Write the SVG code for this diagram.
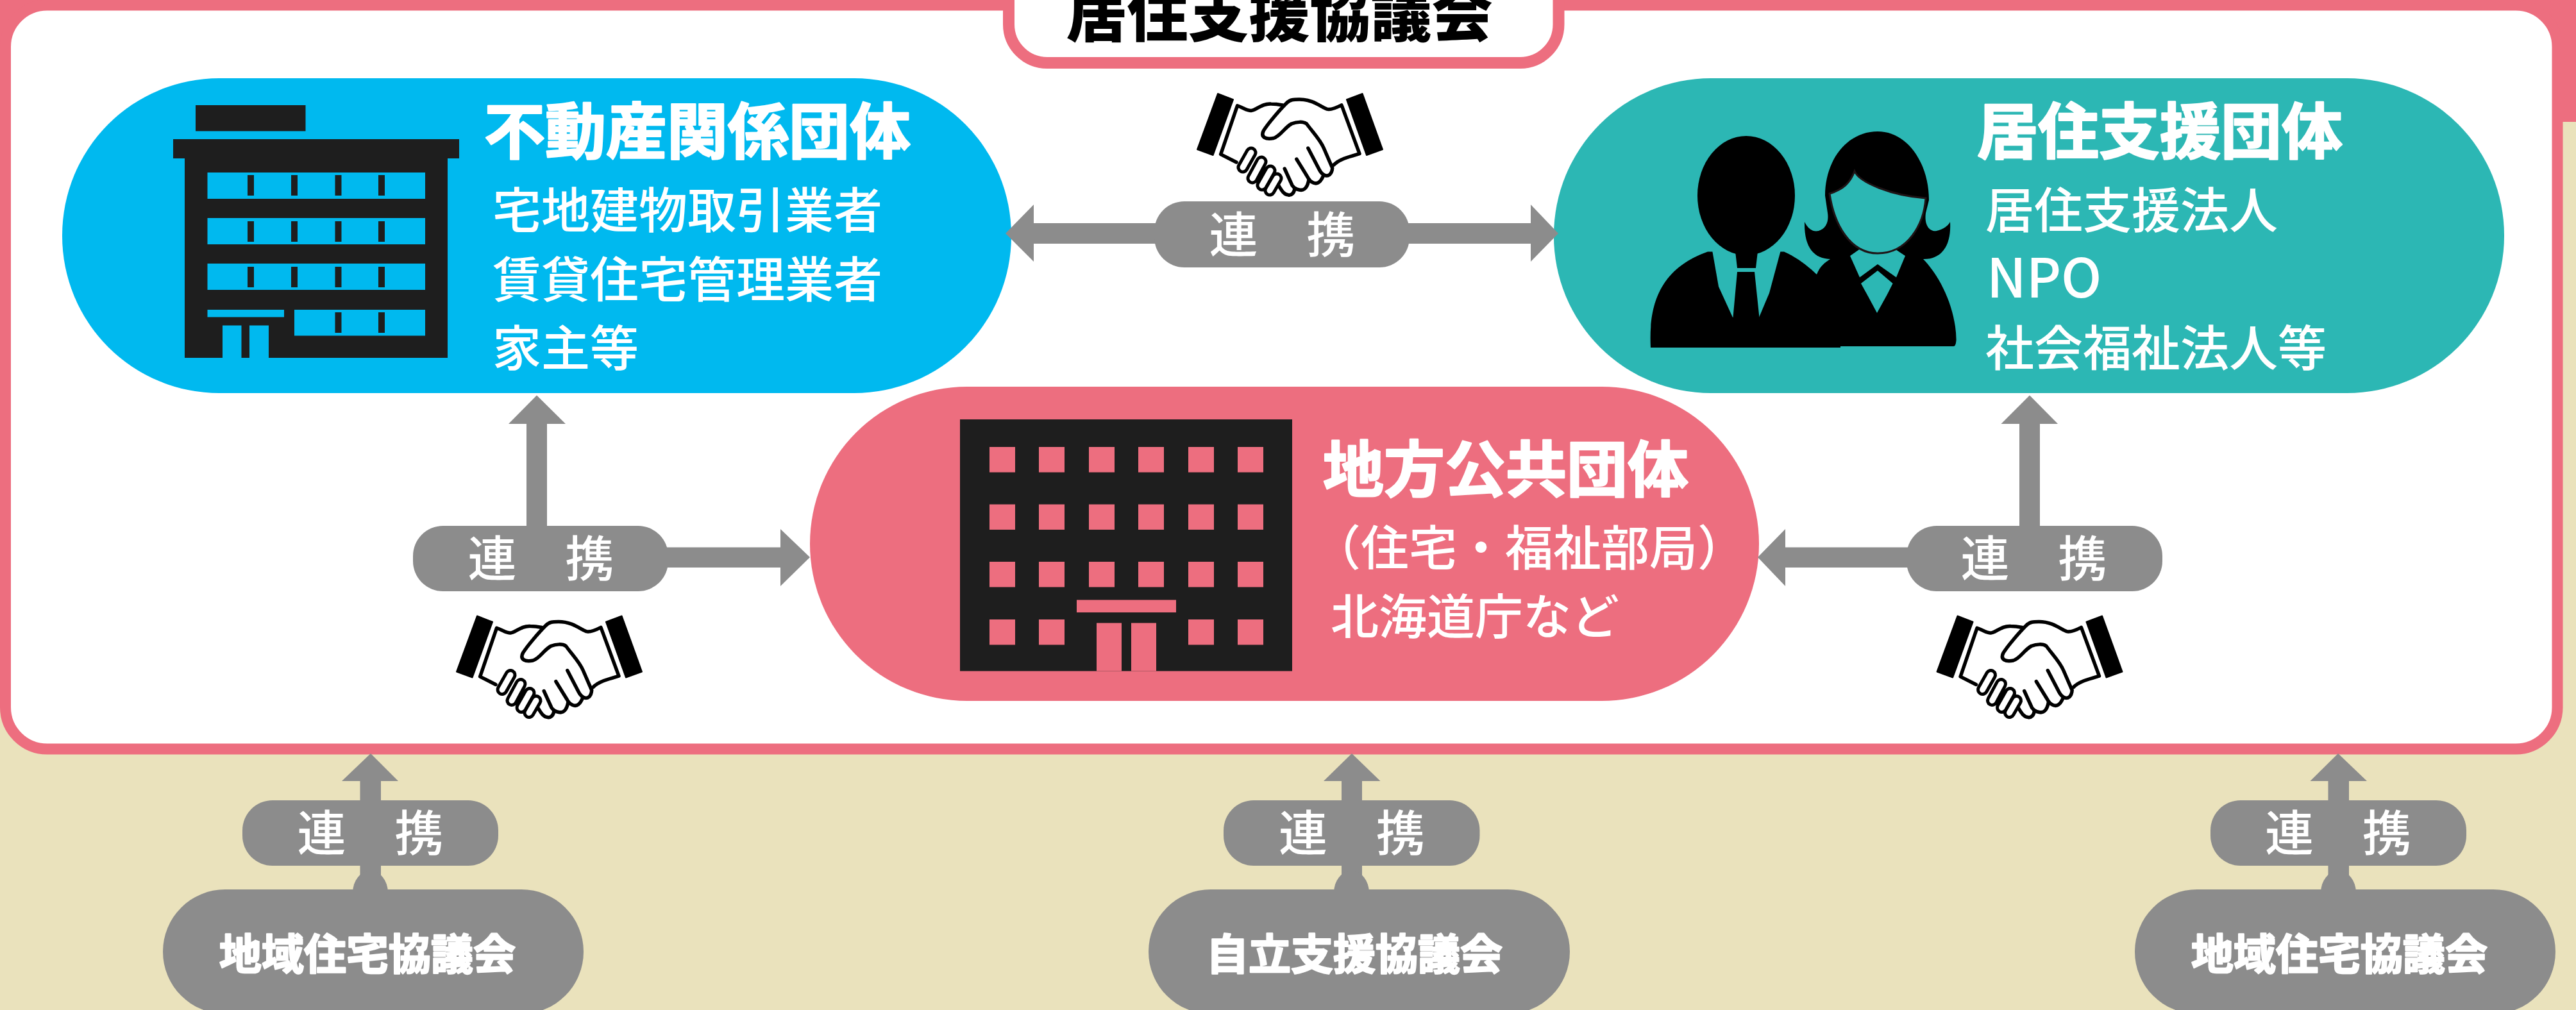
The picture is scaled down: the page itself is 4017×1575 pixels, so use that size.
<svg xmlns="http://www.w3.org/2000/svg" xmlns:xlink="http://www.w3.org/1999/xlink" width="4017" height="1575" viewBox="0 0 4017 1575">
<style>
text{font-family:"Noto Sans CJK JP","Noto Sans",sans-serif;fill:#fff}
.h{font-size:95px;font-weight:700;stroke:#fff;stroke-width:2.5px;stroke-linejoin:round}
.b{font-size:76px;font-weight:500}
.l{font-size:76px;font-weight:500;text-anchor:middle}
.s{font-size:66px;font-weight:700;text-anchor:middle;stroke:#fff;stroke-width:2.5px;stroke-linejoin:round}
.t{font-size:95px;font-weight:900;text-anchor:middle;fill:#000}
.g{fill:#8C8C8C}
.k{fill:#1E1E1E}
.hs{fill:none;stroke:#000;stroke-width:5.5;stroke-linecap:round;stroke-linejoin:round}
.blue{fill:#00B9EF}.pink{fill:#ED6E7F}.teal{fill:#2CB7B4}
</style>
<defs>
<g id="shake">
<path d="M32,0L56,9.3L24.6,96L0,87ZM233,9.3L257.6,0L289,87L264,96Z" fill="#000" stroke="#000" stroke-width="2" stroke-linejoin="round"/>
<path class="hs" d="M61,107L36.6,94.6L62.5,18.9C72,22 78,27 84,26.5C92,26 100,15 115,16C122,16 128,17 133,18"/>
<path class="hs" d="M213,111C222,102 238,98 253,93.6L225,17.9C217,22 208,26 202,24C194,22 182,9 159,9C150,9 145,9 139,15C128,26 110,47 103.6,57.4C98,68 107,72 119,69.5C130,66 135,54 147,47C155,44 165,43 170.5,47C180,60 192,72 197.3,85L210.7,115.9C210,126 204,130 198,127C194,125 192,122 190,118L172.8,85"/>
<path class="hs" d="M197,127C193,137 188,142 181,139C176,137 174,134 172,130L154.9,102.2"/>
<path class="hs" d="M174,134C172,146 167,152 159,150C153,149 150,146 148,143L136.2,117"/>
<path class="hs" d="M152,148C151,155 147,159 142,158C135,158 131,150 126,142"/>
<g stroke-linecap="round" fill="none">
<path d="M71,115L84,92M86,132L100,106M101,143L114,120M113,151L124,132" stroke="#000" stroke-width="19"/>
<path d="M71,115L84,92M86,132L100,106M101,143L114,120M113,151L124,132" stroke="#fff" stroke-width="9"/>
</g>
</g>
</defs>

<g id="background">
<rect width="4017" height="1575" fill="#EAE2BC"/>
<rect width="4017" height="190" class="pink"/>
</g>

<g id="council-frame">
<rect x="8.5" y="8" width="3979.5" height="1160" rx="65" ry="65" fill="#fff" stroke="#ED6E7F" stroke-width="17"/>
<path d="M1573,-12V38A60,60 0 0 0 1633,98H2370.5A60,60 0 0 0 2430.5,38V-12Z" fill="#fff" stroke="#ED6E7F" stroke-width="18"/>
<text class="t" x="1995" y="57">居住支援協議会</text>
</g>

<g id="node-realestate">
<rect x="97" y="122" width="1480" height="491" rx="245" class="blue"/>
<g id="icon-office">
<path class="k" d="M305,164H476.5V204.5H305ZM270,217H716V247H698V558H288V247H270Z"/>
<path class="blue" d="M323.5,269H663V310H323.5ZM323.5,340H663V381H323.5ZM323.5,411H663V452H323.5ZM459,483H663V523.5H459ZM323.5,483H443V494.5H323.5ZM347,507.5H376.5V558H347ZM389,507.5H419V558H389Z"/>
<path class="k" d="M386,273h10v32h-10zM454,273h10v32h-10zM522.5,273h10v32h-10zM590,273h10v32h-10zM386,345h10v32h-10zM454,345h10v32h-10zM522.5,345h10v32h-10zM590,345h10v32h-10zM386,416h10v32h-10zM454,416h10v32h-10zM522.5,416h10v32h-10zM590,416h10v32h-10zM522.5,487h10v32h-10zM590,487h10v32h-10z"/>
</g>
<text class="h" x="755" y="240">不動産関係団体</text>
<text class="b" x="768" y="356">宅地建物取引業者</text>
<text class="b" x="768" y="464">賃貸住宅管理業者</text>
<text class="b" x="768" y="571">家主等</text>
</g>

<g id="node-support">
<rect x="2423" y="122" width="1482" height="491" rx="245" class="teal"/>
<g id="icon-people">
<path fill="#000" d="M2574,542C2571,480 2585,420 2663,392.5L2782,392.5C2800,400 2820,415 2833,428C2838,415 2845,410 2854,404L2998,403C3025,430 3050,480 3050.6,530C3050,537 3049,540 3046,540L2870,540V542Z"/>
<path class="teal" d="M2670,390L2680,447L2702,495H2743L2759,457L2777,390Z"/>
<ellipse cx="2723" cy="305" rx="76" ry="93" fill="#000"/>
<path fill="#000" d="M2706,392H2741L2738,418H2709ZM2709,424H2736L2744,500H2702Z"/>
<path fill="#000" d="M2846,305C2846,250 2880,205 2928,205C2975,205 3008,255 3008,312L3003,332C3000,355 3012,362 3020,360C3030,358 3038,352 3041,346C3043,380 3030,404 3000,404H2855C2828,404 2813,385 2814,346C2820,358 2828,362 2836,360C2848,356 2852,345 2850,332Z"/>
<path class="teal" d="M2885,399L2900,432.5L2928,412L2957,432.5L2971,399L2950,385H2905Z"/>
<path class="teal" d="M2928,422L2902,442L2912.5,461L2927,488L2943,459L2951.6,442Z"/>
<path class="teal" stroke="#1E1416" stroke-width="3" d="M2892,267C2900,285 2950,305 3003,309C3000,350 2975,395 2928,395C2885,395 2860,350 2853,302C2875,295 2885,285 2892,267Z"/>
</g>
<text class="h" x="3083" y="240">居住支援団体</text>
<text class="b" x="3096" y="356">居住支援法人</text>
<text class="b" x="3098" y="464" style="font-size:84px">NPO</text>
<text class="b" x="3096" y="571">社会福祉法人等</text>
</g>

<g id="node-government">
<rect x="1263" y="603" width="1480" height="490" rx="245" class="pink"/>
<g id="icon-cityhall">
<rect class="k" x="1497" y="654" width="518" height="392.5"/>
<path class="pink" d="M1543,697h40v39.5h-40zM1620,697h40v39.5h-40zM1698,697h40v39.5h-40zM1775,697h40v39.5h-40zM1853,697h40v39.5h-40zM1930,697h40v39.5h-40zM1543,786.5h40v39.5h-40zM1620,786.5h40v39.5h-40zM1698,786.5h40v39.5h-40zM1775,786.5h40v39.5h-40zM1853,786.5h40v39.5h-40zM1930,786.5h40v39.5h-40zM1543,876h40v39.5h-40zM1620,876h40v39.5h-40zM1698,876h40v39.5h-40zM1775,876h40v39.5h-40zM1853,876h40v39.5h-40zM1930,876h40v39.5h-40zM1543,966h40v39.5h-40zM1620,966h40v39.5h-40zM1853,966h40v39.5h-40zM1930,966h40v39.5h-40zM1679,935.5h155v19.5h-155zM1710,971.5h39v75h-39zM1764,971.5h39v75h-39z"/>
</g>
<text class="h" x="2063" y="767">地方公共団体</text>
<text class="b" x="2047" y="882" style="font-size:75px">（住宅・福祉部局）</text>
<text class="b" x="2075" y="989" style="font-size:75px">北海道庁など</text>
</g>

<g id="connectors" class="g">
<polygon id="c-center" points="1568,364 1612,319 1612,348 2387,348 2387,319 2430,364 2387,408 2387,380 1612,380 1612,408"/>
<polygon id="c-left-up" points="837,616.5 882,661 853,661 853,825 821,825 821,661 793,661"/>
<polygon id="c-left-right" points="1263,869 1217,825 1217,853.5 1000,853.5 1000,885 1217,885 1217,914"/>
<polygon id="c-right-up" points="3165,616.5 3209,661 3181,661 3181,825 3149,825 3149,661 3120.5,661"/>
<polygon id="c-right-left" points="2741,869 2784,825 2784,853.5 3000,853.5 3000,885 2784,885 2784,914"/>
<g id="c-bottom-left"><polygon points="578,1175 621,1218 594,1218 594,1370 561.5,1370 561.5,1218 533,1218"/><ellipse cx="577.5" cy="1392" rx="27.5" ry="34"/></g>
<g id="c-bottom-center"><polygon points="2108,1175 2152.5,1218 2124,1218 2124,1370 2092,1370 2092,1218 2064,1218"/><ellipse cx="2107.5" cy="1392" rx="27.5" ry="34"/></g>
<g id="c-bottom-right"><polygon points="3646,1175 3691,1218 3663,1218 3663,1370 3630.5,1370 3630.5,1218 3602.5,1218"/><ellipse cx="3646.5" cy="1392" rx="27.5" ry="34"/></g>
</g>

<g id="link-center"><rect class="g" x="1800" y="314" width="398" height="103" rx="47"/><text class="l" x="1999.500" y="394">連　携</text></g>
<g id="link-left"><rect class="g" x="644" y="820" width="398" height="102" rx="47"/><text class="l" x="843.500" y="899">連　携</text></g>
<g id="link-right"><rect class="g" x="2973" y="820" width="399" height="102" rx="47"/><text class="l" x="3171.500" y="899">連　携</text></g>
<g id="link-bottom-left"><rect class="g" x="378" y="1248" width="399" height="102" rx="47"/><text class="l" x="577.500" y="1327">連　携</text></g>
<g id="link-bottom-center"><rect class="g" x="1908" y="1248" width="399.500" height="102" rx="47"/><text class="l" x="2108" y="1327">連　携</text></g>
<g id="link-bottom-right"><rect class="g" x="3447" y="1248" width="399" height="102" rx="47"/><text class="l" x="3646" y="1327">連　携</text></g>

<g id="node-housing-left"><rect class="g" x="254" y="1387" width="656" height="194" rx="97"/><text class="s" x="573" y="1512">地域住宅協議会</text></g>
<g id="node-selfsupport"><rect class="g" x="1791" y="1387" width="657" height="194" rx="97"/><text class="s" x="2112" y="1512">自立支援協議会</text></g>
<g id="node-housing-right"><rect class="g" x="3329" y="1387" width="656" height="194" rx="97"/><text class="s" x="3648" y="1512">地域住宅協議会</text></g>

<g id="handshakes">
<use xlink:href="#shake" href="#shake" x="1867" y="146"/>
<use xlink:href="#shake" href="#shake" x="712" y="960.5"/>
<use xlink:href="#shake" href="#shake" x="3020.5" y="960.5"/>
</g>
</svg>
